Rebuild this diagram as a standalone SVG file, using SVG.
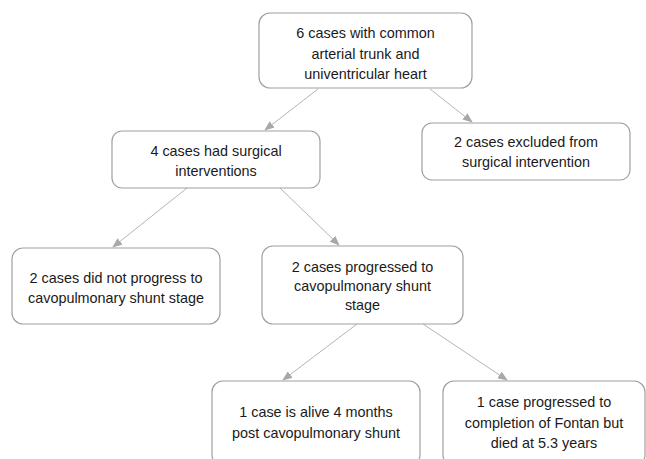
<svg xmlns="http://www.w3.org/2000/svg" width="646" height="459" viewBox="0 0 646 459">
<defs>
<style>
.box{fill:#ffffff;stroke:#a0a0a0;stroke-width:1.2}
.t{font-family:"Liberation Sans",Arial,sans-serif;font-size:14.4px;fill:#1a1a1a;text-anchor:middle}
.c{stroke:#b4b4b4;stroke-width:1;fill:none;marker-end:url(#ah)}
</style>
<marker id="ah" markerWidth="10" markerHeight="8" refX="9" refY="4" orient="auto" markerUnits="userSpaceOnUse">
<path d="M0,0 L10,4 L0,8 Z" fill="#a8a8a8"/>
</marker>
</defs>
<rect width="646" height="459" fill="#ffffff"/>
<g id="connectors">
<line class="c" x1="318" y1="89" x2="265" y2="130"/>
<line class="c" x1="430" y1="89" x2="472" y2="122"/>
<line class="c" x1="187" y1="188" x2="113" y2="247"/>
<line class="c" x1="280" y1="188" x2="339" y2="245"/>
<line class="c" x1="357" y1="324" x2="283" y2="380"/>
<line class="c" x1="423" y1="324" x2="507" y2="380"/>
</g>
<g id="n1">
<rect class="box" x="259" y="13" width="213" height="75" rx="11"/>
<text class="t" x="365.5" y="38">6 cases with common</text>
<text class="t" x="365.5" y="59">arterial trunk and</text>
<text class="t" x="365.5" y="79">univentricular heart</text>
</g>
<g id="n2">
<rect class="box" x="112" y="131" width="208" height="57" rx="10"/>
<text class="t" x="216" y="156">4 cases had surgical</text>
<text class="t" x="216" y="176">interventions</text>
</g>
<g id="n3">
<rect class="box" x="422" y="123" width="208" height="57" rx="10"/>
<text class="t" x="526" y="147">2 cases excluded from</text>
<text class="t" x="526" y="167">surgical intervention</text>
</g>
<g id="n4">
<rect class="box" x="12" y="248" width="208" height="76" rx="11"/>
<text class="t" x="116" y="283">2 cases did not progress to</text>
<text class="t" x="116" y="303">cavopulmonary shunt stage</text>
</g>
<g id="n5">
<rect class="box" x="262" y="246" width="201" height="78" rx="11"/>
<text class="t" x="362.5" y="272">2 cases progressed to</text>
<text class="t" x="362.5" y="291">cavopulmonary shunt</text>
<text class="t" x="362.5" y="310">stage</text>
</g>
<g id="n6">
<rect class="box" x="212" y="381" width="208" height="85" rx="11"/>
<text class="t" x="316" y="417">1 case is alive 4 months</text>
<text class="t" x="316" y="438">post cavopulmonary shunt</text>
</g>
<g id="n7">
<rect class="box" x="443" y="381" width="202" height="85" rx="11"/>
<text class="t" x="544" y="407">1 case progressed to</text>
<text class="t" x="544" y="428">completion of Fontan but</text>
<text class="t" x="544" y="448">died at 5.3 years</text>
</g>
</svg>
